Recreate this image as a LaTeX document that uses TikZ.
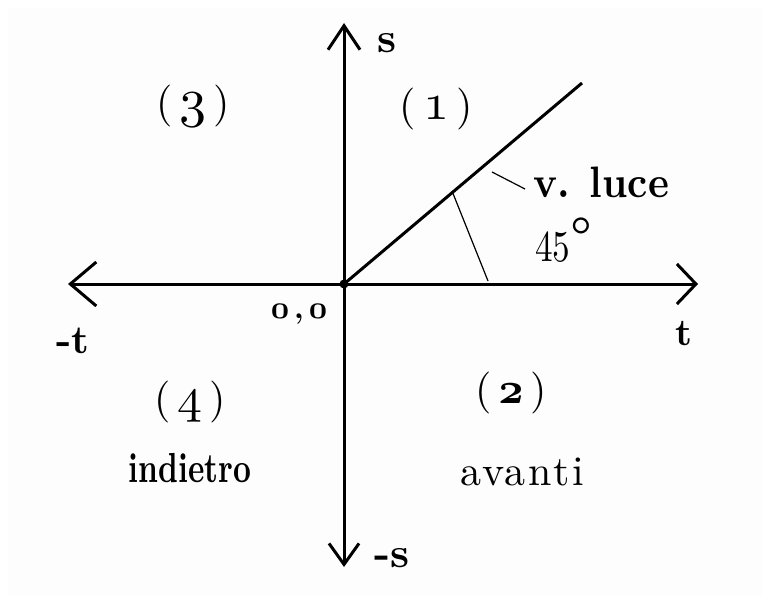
\documentclass[tikz,border=0pt]{standalone}
\usepackage{fontspec}
\setmainfont{lmroman10-regular.otf}[BoldFont=lmroman10-bold.otf]
\newfontfamily\spacedfont{lmroman10-regular.otf}[LetterSpace=6]
\usepackage{graphicx}
\usetikzlibrary{arrows.meta}
\newcommand\osn[2]{\scalebox{#1}{\fontsize{10}{12}\usefont{OML}{cmm}{m}{it}#2}}
\newcommand\osnb[2]{\scalebox{#1}{\fontsize{10}{12}\usefont{OML}{cmm}{b}{it}#2}}
\newcommand\fs[1]{\fontsize{#1}{#1}\selectfont}
\tikzset{
  axis/.style={line width=3pt},
  thinline/.style={line width=1.2pt},
  lbl/.style={inner sep=0pt, anchor=base},
  quad/.style={inner sep=0pt, anchor=center, font=\fs{42}},
}
\begin{document}
\begin{tikzpicture}[x=1pt,y=-1pt]
\useasboundingbox (0,0) rectangle (770,604);
\fill[black!0.7] (8,8) rectangle (762,596);
% axis ends
\coordinate (O) at (344,284);
\coordinate (L) at (68,284);
\coordinate (R) at (698,284);
\coordinate (T) at (344,23);
\coordinate (B) at (344,567);
\coordinate (D) at (582,83);
\coordinate (A1) at (452,191);
\coordinate (A2) at (488,281);
\coordinate (K1) at (492,172);
\coordinate (K2) at (525,189);
% axes
\draw[axis, {Straight Barb[length=26pt,width=44pt,line width=3pt]}-{Straight Barb[length=19pt,width=40pt,line width=3pt]}] (L) -- (R);
\draw[axis, {Straight Barb[length=21pt,width=30pt,line width=3pt]}-{Straight Barb[length=24pt,width=32pt,line width=3pt]}] (B) -- (T);
\draw[axis] (O) -- (D);
\fill (O) circle (4.5pt);
\draw[thinline] (A1) -- (A2);
\draw[thinline] (K1) -- (K2);
% labels
\node[lbl, font=\fs{42}\bfseries] (s) at (387,53) {s};
\node[lbl, font=\fs{40}\bfseries] (mt) at (73,353) {-t};
\node[lbl, font=\fs{38}\bfseries] (t) at (684,345) {t};
\node[lbl, font=\fs{42}\bfseries] (ms) at (392,567) {-s};
\node[lbl, font=\fs{30}] (oo) at (299,318) {\osnb{3.2}{0}\,{\bfseries,}\,\osnb{3.2}{0}};
\node[quad] (q1) at (436,109) {(\,\osn{5.2}{1}\,)};
\node[quad] (q3) at (193,106) {(\,\osn{5.4}{3}\,)};
\node[quad] (q4) at (190,402) {(\,\osn{5}{4}\,)};
\node[quad] (q2) at (511,393) {(\,\osnb{4.4}{2}\,)};
\node[lbl, font=\fs{44}\bfseries] (vl) at (601,197) {\scalebox{0.9}[1]{v. luce}};
\node[lbl, anchor=base west, font=\fs{44}] (deg) at (535,261) {\scalebox{0.8}[1]{45}\raisebox{4pt}{\fs{58}°}};
\node[lbl, font=\fs{42}\bfseries] (ind) at (190,482) {\scalebox{0.74}[1]{indietro}};
\node[lbl, font=\fs{42}\spacedfont] (av) at (522,485) {avanti};
\end{tikzpicture}
\end{document}
